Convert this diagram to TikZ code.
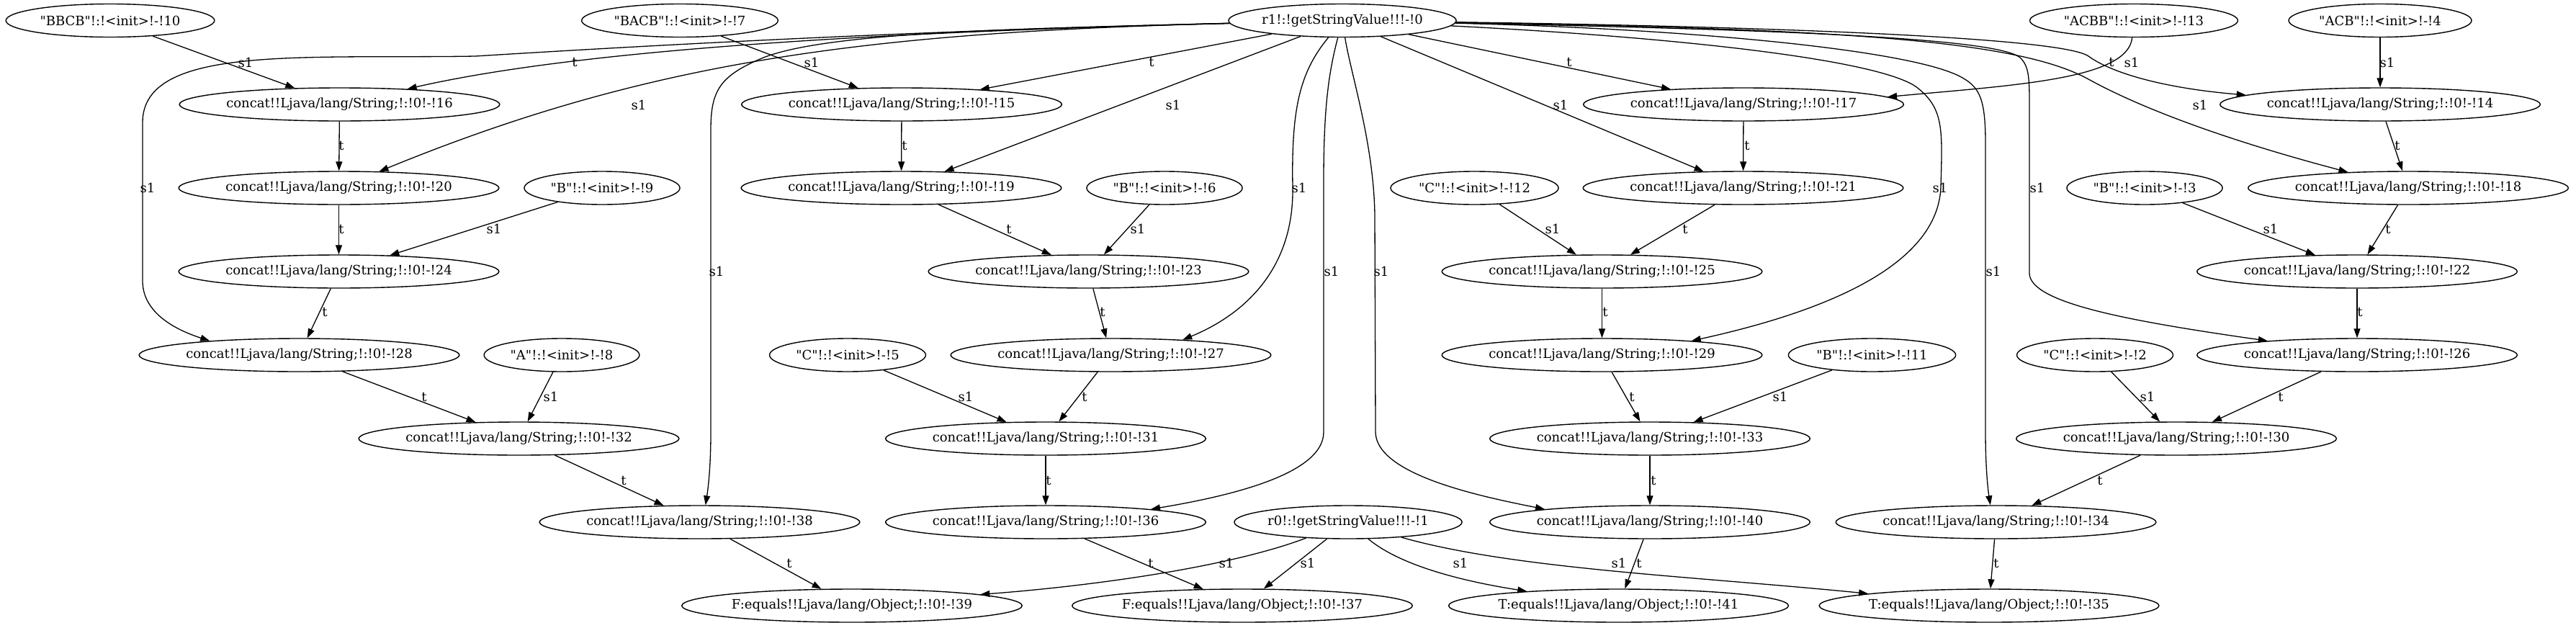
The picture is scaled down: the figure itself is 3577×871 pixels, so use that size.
\documentclass[tikz,border=0pt]{standalone}
\usepackage{fontspec}
\setmainfont{DejaVu Serif}[Ligatures=TeXOff]
\usetikzlibrary{shapes,arrows.meta}

\begin{document}
\begin{tikzpicture}[x=1pt, y=-1pt, font=\fontsize{18}{22}\selectfont]
    \tikzstyle{call} = [ellipse, draw, line width=1.4pt, inner xsep=0pt, minimum height=46pt]
    \tikzstyle{init} = [call, inner xsep=5pt]
    \tikzstyle{line} = [draw, line width=1.3pt, -{Triangle[length=13pt,width=9pt]}]
    \tikzstyle{lbl} = [inner sep=0pt]

    \useasboundingbox (0,0) rectangle (3577,871);

    \node[init] (init10) at (153,28.5) {"BBCB"!:!<init>!-!10};
    \node[init] (init7) at (944,28.5) {"BACB"!:!<init>!-!7};
    \node[call] (val0) at (1864,28.5) {r1!:!getStringValue!!!-!0};
    \node[init] (init13) at (2963,28.5) {"ACBB"!:!<init>!-!13};
    \node[init] (init4) at (3305,28.5) {"ACB"!:!<init>!-!4};

    \node[call] (cat16) at (471.5,145) {concat!!Ljava/lang/String;!:!0!-!16};
    \node[call] (cat15) at (1252,145) {concat!!Ljava/lang/String;!:!0!-!15};
    \node[call] (cat17) at (2421,145) {concat!!Ljava/lang/String;!:!0!-!17};
    \node[call] (cat14) at (3305,145) {concat!!Ljava/lang/String;!:!0!-!14};

    \node[call] (cat20) at (470.5,261) {concat!!Ljava/lang/String;!:!0!-!20};
    \node[init] (init9) at (836,261) {"B"!:!<init>!-!9};
    \node[call] (cat19) at (1251.5,261) {concat!!Ljava/lang/String;!:!0!-!19};
    \node[init] (init6) at (1617,261) {"B"!:!<init>!-!6};
    \node[init] (init12) at (2047.5,261) {"C"!:!<init>!-!12};
    \node[call] (cat21) at (2420.5,261) {concat!!Ljava/lang/String;!:!0!-!21};
    \node[init] (init3) at (2978,261) {"B"!:!<init>!-!3};
    \node[call] (cat18) at (3344,261) {concat!!Ljava/lang/String;!:!0!-!18};

    \node[call] (cat24) at (470.5,377) {concat!!Ljava/lang/String;!:!0!-!24};
    \node[call] (cat23) at (1511.5,377) {concat!!Ljava/lang/String;!:!0!-!23};
    \node[call] (cat25) at (2224.5,377) {concat!!Ljava/lang/String;!:!0!-!25};
    \node[call] (cat22) at (3273,377) {concat!!Ljava/lang/String;!:!0!-!22};

    \node[call] (cat28) at (415.5,493) {concat!!Ljava/lang/String;!:!0!-!28};
    \node[init] (init8) at (780,493) {"A"!:!<init>!-!8};
    \node[init] (init5) at (1177,493) {"C"!:!<init>!-!5};
    \node[call] (cat27) at (1542.5,493) {concat!!Ljava/lang/String;!:!0!-!27};
    \node[call] (cat29) at (2224.5,493) {concat!!Ljava/lang/String;!:!0!-!29};
    \node[init] (init11) at (2599.5,493) {"B"!:!<init>!-!11};
    \node[init] (init2) at (2909,493) {"C"!:!<init>!-!2};
    \node[call] (cat26) at (3273,493) {concat!!Ljava/lang/String;!:!0!-!26};

    \node[call] (cat32) at (720.5,609) {concat!!Ljava/lang/String;!:!0!-!32};
    \node[call] (cat31) at (1452,609) {concat!!Ljava/lang/String;!:!0!-!31};
    \node[call] (cat33) at (2291,609) {concat!!Ljava/lang/String;!:!0!-!33};
    \node[call] (cat30) at (3022,609) {concat!!Ljava/lang/String;!:!0!-!30};

    \node[call] (cat38) at (971.5,725) {concat!!Ljava/lang/String;!:!0!-!38};
    \node[call] (cat36) at (1452,725) {concat!!Ljava/lang/String;!:!0!-!36};
    \node[call] (val1) at (1872,725) {r0!:!getStringValue!!!-!1};
    \node[call] (cat40) at (2291,725) {concat!!Ljava/lang/String;!:!0!-!40};
    \node[call] (cat34) at (2771.5,725) {concat!!Ljava/lang/String;!:!0!-!34};

    \node[call] (eq39) at (1183,841) {F:equals!!Ljava/lang/Object;!:!0!-!39};
    \node[call] (eq37) at (1725,841) {F:equals!!Ljava/lang/Object;!:!0!-!37};
    \node[call] (eq41) at (2247.5,841) {T:equals!!Ljava/lang/Object;!:!0!-!41};
    \node[call] (eq35) at (2762,841) {T:equals!!Ljava/lang/Object;!:!0!-!35};

    \path[line] (init10) -- (cat16) node[lbl] at (341,87) {s1};
    \path[line] (val0) .. controls (1200,45) and (800,70) .. (cat16) node[lbl] at (798,87) {t};
    \path[line] (init7) -- (cat15) node[lbl] at (1127,87) {s1};
    \path[line] (val0) -- (cat15) node[lbl] at (1599,87) {t};
    \path[line] (val0) -- (cat17) node[lbl] at (2179,87) {t};
    \path[line] (init13) .. controls (2955,110) and (2800,118) .. (cat17.3) node[lbl] at (2960,87) {s1};
    \path[line] (val0) .. controls (2400,36) and (2860,50) .. (2900,78) .. controls (2930,100) and (3000,122) .. (cat14.176) node[lbl] at (2932,87) {t};
    \path[line] (init4) -- (cat14) node[lbl] at (3315,87) {s1};

    \path[line] (cat16) -- (cat20) node[lbl] at (474,202) {t};
    \path[line] (val0) .. controls (1200,45) and (900,85) .. (cat20) node[lbl] at (887,146) {s1};
    \path[line] (cat15) -- (cat19) node[lbl] at (1256,202) {t};
    \path[line] (val0) -- (cat19) node[lbl] at (1629,146) {s1};
    \path[line] (cat17) -- (cat21) node[lbl] at (2426,202) {t};
    \path[line] (val0) -- (cat21) node[lbl] at (2167,146) {s1};
    \path[line] (cat14) -- (cat18) node[lbl] at (3329,202) {t};
    \path[line] (val0) .. controls (2550,40) and (2800,55) .. (2900,110) .. controls (3000,165) and (3150,210) .. (cat18) node[lbl] at (3055,146) {s1};

    \path[line] (cat20) -- (cat24) node[lbl] at (474,318) {t};
    \path[line] (init9) -- (cat24) node[lbl] at (686,318) {s1};
    \path[line] (cat19) -- (cat23) node[lbl] at (1401,318) {t};
    \path[line] (init6) -- (cat23) node[lbl] at (1580,318) {s1};
    \path[line] (init12) -- (cat25) node[lbl] at (2156,318) {s1};
    \path[line] (cat21) -- (cat25) node[lbl] at (2340,318) {t};
    \path[line] (init3) -- (cat22) node[lbl] at (3153,318) {s1};
    \path[line] (cat18) -- (cat22) node[lbl] at (3316,318) {t};

    \path[line] (cat24) -- (cat28) node[lbl] at (451,433) {t};
    \path[line] (val0) .. controls (1300,42) and (950,60) .. (660,78) .. controls (420,82) and (198,62) .. (198,170) -- (198,390) .. controls (198,430) and (235,455) .. (cat28.171) node[lbl] at (205,261) {s1};
    \path[line] (cat23) -- (cat27) node[lbl] at (1531,433) {t};
    \path[line] (val0) .. controls (1805,100) and (1793,150) .. (1795,260) .. controls (1797,380) and (1720,440) .. (cat27.12) node[lbl] at (1804,261) {s1};
    \path[line] (cat25) -- (cat29) node[lbl] at (2229,433) {t};
    \path[line] (val0) .. controls (2300,50) and (2600,80) .. (2660,120) .. controls (2700,150) and (2697,180) .. (2695,260) .. controls (2690,380) and (2500,440) .. (cat29.9) node[lbl] at (2694,261) {s1};
    \path[line] (cat22) -- (cat26) node[lbl] at (3277,433) {t};
    \path[line] (val0) .. controls (2400,40) and (2770,50) .. (2805,80) .. controls (2818,92) and (2818,110) .. (2818,150) -- (2818,380) .. controls (2820,420) and (2950,445) .. (cat26.171) node[lbl] at (2829,261) {s1};

    \path[line] (cat28) -- (cat32) node[lbl] at (589,551) {t};
    \path[line] (init8) -- (cat32) node[lbl] at (765,551) {s1};
    \path[line] (init5) -- (cat31) node[lbl] at (1341,551) {s1};
    \path[line] (cat27) -- (cat31) node[lbl] at (1506,551) {t};
    \path[line] (cat29) -- (cat33) node[lbl] at (2266,551) {t};
    \path[line] (init11) -- (cat33) node[lbl] at (2472,551) {s1};
    \path[line] (init2) -- (cat30) node[lbl] at (2982,551) {s1};
    \path[line] (cat26) -- (cat30) node[lbl] at (3167,551) {t};

    \path[line] (cat32) -- (cat38) node[lbl] at (866,667) {t};
    \path[line] (val0) .. controls (1400,40) and (1150,45) .. (1060,80) .. controls (1000,105) and (987,125) .. (987,180) -- (987,600) .. controls (987,650) and (983,680) .. (cat38.71) node[lbl] at (995,377) {s1};
    \path[line] (cat31) -- (cat36) node[lbl] at (1456,667) {t};
    \path[line] (val0) .. controls (1845,100) and (1838,150) .. (1838,250) -- (1838,600) .. controls (1838,660) and (1700,690) .. (cat36.7) node[lbl] at (1849,377) {s1};
    \path[line] (cat33) -- (cat40) node[lbl] at (2296,667) {t};
    \path[line] (val0) .. controls (1875,100) and (1908,200) .. (1909,300) -- (1910,600) .. controls (1911,660) and (2060,690) .. (cat40.173) node[lbl] at (1918,377) {s1};
    \path[line] (cat30) -- (cat34) node[lbl] at (2916,667) {t};
    \path[line] (val0) .. controls (2350,40) and (2660,70) .. (2725,108) .. controls (2750,122) and (2757,140) .. (2757,200) -- (2757,600) .. controls (2757,660) and (2762,690) .. (cat34.108) node[lbl] at (2768,377) {s1};

    \path[line] (cat38) -- (eq39) node[lbl] at (1096,782) {t};
    \path[line] (val1) .. controls (1700,790) and (1500,815) .. (eq39.5) node[lbl] at (1703,782) {s1};
    \path[line] (cat36) -- (eq37) node[lbl] at (1598,782) {t};
    \path[line] (val1) -- (eq37) node[lbl] at (1816,782) {s1};
    \path[line] (cat40) -- (eq41) node[lbl] at (2276,782) {t};
    \path[line] (val1) .. controls (1950,790) and (2050,810) .. (eq41) node[lbl] at (2028,782) {s1};
    \path[line] (cat34) -- (eq35) node[lbl] at (2772,782) {t};
    \path[line] (val1) .. controls (2100,790) and (2350,800) .. (eq35) node[lbl] at (2248,782) {s1};
\end{tikzpicture}
\end{document}
